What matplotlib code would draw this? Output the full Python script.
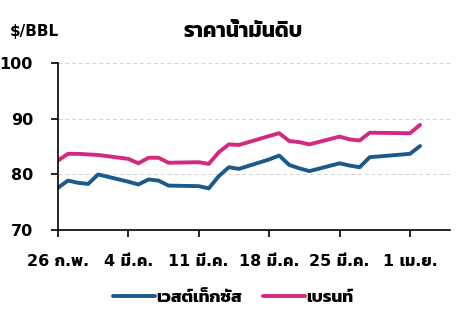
import pandas as pd
import matplotlib
matplotlib.use('Agg')
import matplotlib.pyplot as plt

plt.rcParams['font.family'] = ['DejaVu Sans', 'Kanit']
plt.rcParams['font.weight'] = 'bold'

dates = ['2024-02-26', '2024-02-27', '2024-02-28', '2024-02-29', '2024-03-01',
         '2024-03-04', '2024-03-05', '2024-03-06', '2024-03-07', '2024-03-08',
         '2024-03-11', '2024-03-12', '2024-03-13', '2024-03-14', '2024-03-15',
         '2024-03-18', '2024-03-19', '2024-03-20', '2024-03-21', '2024-03-22',
         '2024-03-25', '2024-03-26', '2024-03-27', '2024-03-28',
         '2024-04-01', '2024-04-02']
wti = [77.6, 78.9, 78.5, 78.3, 80.0,
       78.7, 78.2, 79.1, 78.9, 78.0,
       77.9, 77.5, 79.7, 81.3, 81.0,
       82.7, 83.4, 81.7, 81.1, 80.6,
       82.0, 81.6, 81.3, 83.1,
       83.7, 85.1]
brent = [82.5, 83.7, 83.7, 83.6, 83.5,
         82.8, 82.0, 83.0, 83.0, 82.1,
         82.2, 81.9, 84.0, 85.4, 85.3,
         86.9, 87.4, 86.0, 85.8, 85.4,
         86.8, 86.3, 86.1, 87.5,
         87.4, 88.9]
tick_dates = ['2024-02-26', '2024-03-04', '2024-03-11', '2024-03-18', '2024-03-25', '2024-04-01']
tick_labels = ['26 ก.พ.', '4 มี.ค.', '11 มี.ค.', '18 มี.ค.', '25 มี.ค.', '1 เม.ย.']
series_names = ['เวสต์เท็กซัส', 'เบรนท์']

x = pd.to_datetime(dates)

fig = plt.figure(figsize=(4.67, 3.17), dpi=100)
ax = fig.add_axes([0.124, 0.274, 0.84, 0.527])

ax.plot(x, wti, color='#1b5a8a', lw=2.8, label=series_names[0], solid_capstyle='round')
ax.plot(x, brent, color='#d4297f', lw=2.8, label=series_names[1], solid_capstyle='round')

ax.set_ylim(70, 100)
ax.set_yticks([70, 80, 90, 100])
ax.set_xlim(pd.Timestamp('2024-02-26'), pd.Timestamp('2024-04-05'))
ax.set_xticks(pd.to_datetime(tick_dates))
ax.set_xticklabels(tick_labels)

# light dashed guides
for v in [80, 90, 100]:
    ax.axhline(v, color='#d3d3d3', lw=0.7, ls=(0, (4, 3)), zorder=0)

for s in ['top', 'right']:
    ax.spines[s].set_visible(False)
ax.spines['left'].set_linewidth(1.2)
ax.spines['bottom'].set_linewidth(1.2)
ax.tick_params(axis='both', labelsize=11.5, width=1.2, length=5, color='black')
ax.tick_params(axis='y', pad=13)
ax.tick_params(axis='x', pad=12)

fig.text(0.02, 0.90, '$/BBL', fontsize=11, fontweight='bold', va='center')
fig.text(0.52, 0.90, 'ราคาน้ำมันดิบ', fontsize=15, fontweight='bold', va='center', ha='center',
         family='Kanit')

fig.legend(loc='center', bbox_to_anchor=(0.5, 0.063), ncol=2, frameon=False,
           prop={'family': 'Kanit', 'weight': 'bold', 'size': 12.5},
           handlelength=2.4, handletextpad=0.1, columnspacing=1.2)

fig.savefig('out.png')
